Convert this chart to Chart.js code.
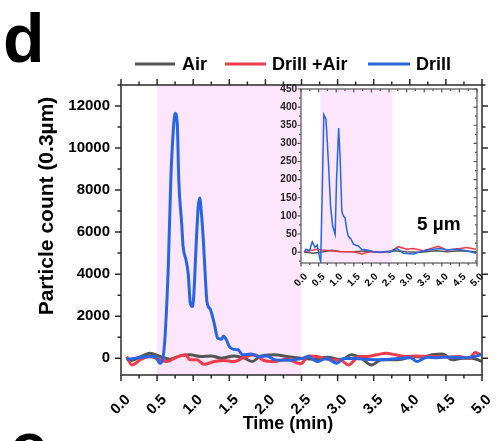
<!DOCTYPE html>
<html>
<head>
  <meta charset="utf-8">
  <title>Particle count (0.3µm)</title>
  <script src="https://cdn.jsdelivr.net/npm/chart.js"></script>
  <style>
    body { margin: 0; background: #fff; }
    #wrap { position: relative; width: 497px; height: 441px; overflow: hidden; }
    #mainChart { position: absolute; left: 0; top: 0; }
    #insetChart { position: absolute; left: 270px; top: 80px; }
  </style>
</head>
<body>
<div id="wrap">
  <canvas id="mainChart" width="497" height="441"></canvas>
  <canvas id="insetChart" width="227" height="230"></canvas>
</div>
<script>
// main panel : 0.3 um counts, time in min
const airTime  = [0.08,0.12,0.28,0.40,0.54,0.68,0.82,0.96,1.11,1.25,1.39,1.57,1.71,1.82,1.91,2.12,2.30,2.49,2.67,2.86,3.05,3.19,3.33,3.47,3.61,3.75,3.89,4.03,4.17,4.31,4.45,4.59,4.73,4.86,5.00];
const airCount = [0,-110,80,240,80,-50,110,160,80,110,0,110,0,-160,50,160,80,0,-50,50,-80,160,0,-320,-80,-80,-50,80,50,160,200,-80,0,0,-160];

const mixTime  = [0.08,0.15,0.28,0.40,0.52,0.63,0.77,0.89,0.96,1.05,1.15,1.29,1.42,1.57,1.71,1.85,1.98,2.12,2.30,2.49,2.60,2.71,2.90,3.05,3.15,3.30,3.40,3.54,3.67,3.80,3.95,4.09,4.27,4.41,4.55,4.68,4.82,4.91,4.98];
const mixCount = [80,-320,-50,80,-50,-160,50,160,-80,-80,-290,-160,-110,-160,50,160,-110,-160,-50,-270,110,80,-80,-110,-320,80,80,160,240,160,80,110,80,80,50,80,0,270,160];

const drillTime  = [0.08,0.20,0.31,0.47,0.54,0.60,0.655,0.69,0.725,0.75,0.78,0.80,0.84,0.86,0.90,0.93,0.96,0.99,1.01,1.04,1.07,1.09,1.11,1.14,1.17,1.19,1.24,1.29,1.34,1.39,1.42,1.46,1.50,1.55,1.62,1.69,1.80,1.90,2.02,2.14,2.33,2.52,2.60,2.71,2.85,2.99,3.08,3.22,3.40,3.54,3.73,3.87,4.01,4.10,4.24,4.38,4.52,4.71,4.85,4.99];
const drillCount = [-60,0,60,80,-240,560,4365,8490,10870,11660,11110,8490,6430,5320,4680,4050,2620,2460,3100,5320,7220,7620,7060,5640,3730,2700,2300,1670,950,900,1060,870,556,430,400,160,200,80,100,-80,-100,0,80,-160,-20,-240,-20,-20,-50,-80,-50,0,20,-160,50,20,60,20,50,160];

// inset : 5 um counts
const inAirTime  = [0.09,0.35,0.63,0.87,1.11,1.49,1.87,2.24,2.62,3.00,3.38,3.85,4.14,4.52,4.97];
const inAirCount = [0,-3,1,5,2,1,3,0,4,1,0,4,1,4,1];

const inMixTime  = [0.09,0.35,0.45,0.59,0.82,1.11,1.49,1.72,1.96,2.24,2.53,2.77,3.00,3.19,3.48,3.90,4.14,4.52,4.71,4.97];
const inMixCount = [1,6,8,6,4,1,1,-5,1,-1,1,15,8,10,4,16,6,10,13,8];

const inDrillTime  = [0.09,0.14,0.24,0.32,0.40,0.46,0.52,0.56,0.61,0.65,0.71,0.78,0.84,0.90,0.97,1.01,1.07,1.11,1.16,1.20,1.25,1.30,1.34,1.41,1.49,1.56,1.63,1.72,1.87,2.05,2.24,2.39,2.53,2.72,2.91,3.19,3.48,3.76,3.95,4.14,4.42,4.71,4.97];
const inDrillCount = [0,8,4,28,13,20,-10,-28,200,379,367,246,127,72,49,200,342,264,113,100,95,63,45,37,22,19,17,8,6,1,0,2,0,10,-3,-5,4,8,10,6,8,4,-3];

// tick values
const timeTicks  = [0, 0.5, 1, 1.5, 2, 2.5, 3, 3.5, 4, 4.5, 5];
const countTicks = [0, 2000, 4000, 6000, 8000, 10000, 12000];
const insetTicks = [0, 50, 100, 150, 200, 250, 300, 350, 400, 450];

const seriesNames  = ['Air', 'Drill +Air', 'Drill'];
const seriesColors = ['#555555', '#f03b4b', '#2865e2'];
const drillWindow  = [0.5, 2.5];
const insetWindow  = [0.55, 2.6];

const FONT = '"Liberation Sans", Arial, sans-serif';
const pts = (t, v) => t.map((x, i) => ({ x: x, y: v[i] }));

// origin-like box axes with minor ticks and a shaded time window
const originFrame = {
  id: 'originFrame',
  beforeDatasetsDraw(chart, args, o) {
    const { ctx, chartArea: a, scales: { x } } = chart;
    ctx.save();
    if (o.fill) { ctx.fillStyle = o.fill; ctx.fillRect(a.left, a.top, a.width, a.height); }
    const x0 = x.getPixelForValue(o.band[0]);
    const x1 = x.getPixelForValue(o.band[1]);
    ctx.fillStyle = o.bandColor;
    ctx.fillRect(x0, a.top, x1 - x0, a.height);
    ctx.restore();
  },
  afterDatasetsDraw(chart, args, o) {
    const { ctx, chartArea: a, scales: { x, y } } = chart;
    const isMajor = (v, step) => Math.abs(v / step - Math.round(v / step)) < 1e-6;
    ctx.save();
    ctx.strokeStyle = o.color;
    ctx.lineWidth = o.lineWidth;
    ctx.beginPath();
    const seg = (x1, y1, x2, y2) => { ctx.moveTo(x1, y1); ctx.lineTo(x2, y2); };
    for (let i = Math.ceil(x.min / o.xMinor - 1e-9); i * o.xMinor <= x.max + 1e-9; i++) {
      const v = i * o.xMinor, px = x.getPixelForValue(v);
      const len = isMajor(v, o.xStep) ? o.major : o.minor;
      seg(px, a.bottom, px, a.bottom + len * o.out.bottom);
      seg(px, a.top, px, a.top - len * o.out.top);
    }
    for (let i = Math.ceil(y.min / o.yMinor - 1e-9); i * o.yMinor <= y.max + 1e-9; i++) {
      const v = i * o.yMinor, py = y.getPixelForValue(v);
      const len = isMajor(v, o.yStep) ? o.major : o.minor;
      seg(a.left, py, a.left - len * o.out.left, py);
      seg(a.right, py, a.right + len * o.out.right, py);
    }
    ctx.stroke();
    ctx.strokeRect(a.left, a.top, a.width, a.height);
    ctx.restore();
  }
};

// panel letters, legend and axis titles of the main panel
const panelText = {
  id: 'panelText',
  afterDraw(chart) {
    const ctx = chart.ctx;
    ctx.save();
    ctx.fillStyle = '#000';
    ctx.textBaseline = 'alphabetic';
    ctx.textAlign = 'left';
    ctx.font = 'bold 68px ' + FONT;
    ctx.fillText('d', 3, 62);
    ctx.fillText('e', 10, 470);

    // legend
    const lineX = [[135, 175], [225, 266], [368, 410]];
    const textX = [182, 272, 416];
    ctx.font = 'bold 18px ' + FONT;
    ctx.textBaseline = 'middle';
    chart.data.datasets.forEach((ds, i) => {
      ctx.strokeStyle = ds.borderColor;
      ctx.lineWidth = 3;
      ctx.beginPath();
      ctx.moveTo(lineX[i][0], 64);
      ctx.lineTo(lineX[i][1], 64);
      ctx.stroke();
      ctx.fillText(ds.label, textX[i], 65);
    });

    // axis titles
    ctx.textAlign = 'center';
    ctx.font = 'bold 18px ' + FONT;
    ctx.fillText('Time (min)', 288, 424);
    ctx.translate(47, 206);
    ctx.rotate(-Math.PI / 2);
    ctx.font = 'bold 21px ' + FONT;
    ctx.fillText('Particle count (0.3µm)', 0, 0);
    ctx.restore();
  }
};

const insetText = {
  id: 'insetText',
  afterDraw(chart) {
    const { ctx, chartArea: a } = chart;
    ctx.save();
    ctx.fillStyle = '#000';
    ctx.font = 'bold 19px ' + FONT;
    ctx.textBaseline = 'alphabetic';
    ctx.fillText('5 µm', a.left + 116, a.top + 141);
    ctx.restore();
  }
};

function lineSet(i, data, width, smooth) {
  return {
    label: seriesNames[i],
    data: data,
    borderColor: seriesColors[i],
    borderWidth: width,
    pointRadius: 0,
    cubicInterpolationMode: smooth ? 'monotone' : 'default',
    tension: 0,
    order: 2 - i
  };
}

// fixed scale sizes so the plot box lands where the figure has it
function pinSize(s, key, size) {
  s[key] = size;
  s.paddingLeft = s.paddingRight = s.paddingTop = s.paddingBottom = 0;
}

function axisX(size, padding, offset, height) {
  return {
    type: 'linear', min: 0, max: 5,
    grid: { display: false, drawTicks: false },
    border: { display: false },
    afterBuildTicks: s => { s.ticks = timeTicks.map(v => ({ value: v })); },
    ticks: {
      autoSkip: false, minRotation: 45, maxRotation: 45,
      padding: padding, labelOffset: offset, color: '#000',
      font: { family: FONT, size: size, weight: 'bold' },
      callback: v => Number(v).toFixed(1)
    },
    afterFit: s => pinSize(s, 'height', height)
  };
}

function axisY(min, max, values, size, padding, width, color) {
  return {
    min: min, max: max,
    grid: { display: false, drawTicks: false },
    border: { display: false },
    afterBuildTicks: s => { s.ticks = values.map(v => ({ value: v })); },
    ticks: {
      padding: padding, color: color,
      font: { family: FONT, size: size, weight: 'bold' },
      callback: v => String(v)
    },
    afterFit: s => pinSize(s, 'width', width)
  };
}

new Chart(document.getElementById('mainChart'), {
  type: 'line',
  data: {
    datasets: [
      lineSet(0, pts(airTime, airCount), 3, true),
      lineSet(1, pts(mixTime, mixCount), 3, true),
      lineSet(2, pts(drillTime, drillCount), 3, true)
    ]
  },
  options: {
    responsive: false,
    animation: false,
    layout: { padding: { top: 85, right: 15, left: 0, bottom: 0 } },
    plugins: {
      legend: { display: false },
      tooltip: { enabled: false },
      originFrame: {
        band: drillWindow, bandColor: '#fde6fb', color: '#2b2b2b', lineWidth: 1.5,
        xStep: 0.5, xMinor: 0.25, yStep: 2000, yMinor: 1000, major: 6, minor: 3.5,
        out: { bottom: 1, top: 1, left: 1, right: 1 }
      }
    },
    scales: {
      x: axisX(15, 16, 7, 66),
      y: axisY(-800, 13000, countTicks, 15, 11, 121, '#000')
    }
  },
  plugins: [originFrame, panelText]
});

new Chart(document.getElementById('insetChart'), {
  type: 'line',
  data: {
    datasets: [
      lineSet(0, pts(inAirTime, inAirCount), 1.5, false),
      lineSet(1, pts(inMixTime, inMixCount), 1.5, false),
      lineSet(2, pts(inDrillTime, inDrillCount), 1.5, false)
    ]
  },
  options: {
    responsive: false,
    animation: false,
    layout: { padding: { top: 9, right: 20, left: 0, bottom: 0 } },
    plugins: {
      legend: { display: false },
      tooltip: { enabled: false },
      originFrame: {
        fill: '#fff', band: insetWindow, bandColor: '#fde6fb', color: '#555', lineWidth: 1.2,
        xStep: 0.5, xMinor: 0.25, yStep: 50, yMinor: 25, major: 3.5, minor: 2,
        out: { bottom: 1, top: -1, left: 1, right: -1 }
      }
    },
    scales: {
      x: axisX(10, 8, 5, 47),
      y: axisY(-30, 450, insetTicks, 10, 4, 31, '#222')
    }
  },
  plugins: [originFrame, insetText]
});
</script>
</body>
</html>
